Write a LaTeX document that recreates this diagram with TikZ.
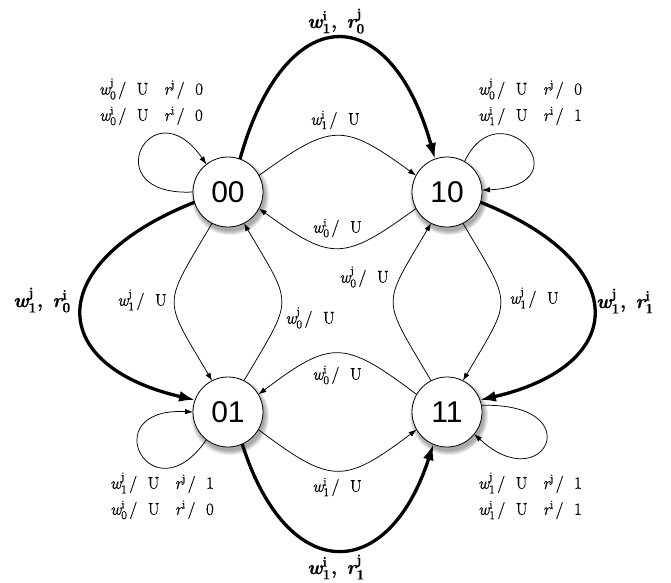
\documentclass[tikz,border=0pt]{standalone}
\usepackage{amsmath}
\usepackage{fontspec}
\newfontfamily\statefont{Liberation Sans}
\newfontfamily\lblfont[FakeBold=0.5]{Latin Modern Roman}
\newfontfamily\heavyfont[FakeBold=0.6]{Latin Modern Roman}
\usetikzlibrary{arrows.meta,backgrounds}

\tikzset{
  state/.style={circle, draw=black, line width=0.8pt, fill=white,
    minimum size=70pt, inner sep=0pt, outer sep=0pt,
    font=\statefont\fontsize{30}{30}\selectfont},
  thin edge/.style={line width=0.75pt, -{Latex[length=8pt,width=5.5pt]}},
  thick edge/.style={line width=3.3pt, -{Latex[length=16pt,width=11pt]}},
  lbl/.style={inner sep=0pt, font=\fontsize{17}{20}\selectfont},
  boldlbl/.style={inner sep=0pt, font=\fontsize{20}{24}\selectfont},
}

% letters of the transition texts
\newcommand{\vi}[1]{\text{\lblfont\itshape #1}}
\newcommand{\vu}[1]{\text{\lblfont #1}}
\newcommand{\bi}[1]{\text{\heavyfont\bfseries\itshape #1}}
\newcommand{\bu}[1]{\text{\heavyfont\bfseries #1}}

% transition texts
\newcommand{\tr}[3]{$\vi{w}_{\vu{#1}}^{\vu{#2}}\mskip2mu\vu{/}\mskip11mu\vu{U}\mskip16mu\vi{r}^{\vu{#2}}\mskip2mu\vu{/}\mskip11mu\vu{#3}$}
\newcommand{\wu}[2]{$\vi{w}_{\vu{#1}}^{\vu{#2}}\mskip2mu\vu{/}\mskip11mu\vu{U}$}
\newcommand{\bw}[4]{$\bi{w}_{\bu{#1}}^{\bu{#2}}\bu{,}\mskip8mu\bi{r}_{\bu{#3}}^{\bu{#4}}$}

\begin{document}
\begin{tikzpicture}[x=1pt,y=1pt]
\useasboundingbox (0,0) rectangle (671,582);

% states
\node[state] (n00) at (228,390) {00};
\node[state] (n10) at (447,390) {10};
\node[state] (n01) at (228,170) {01};
\node[state] (n11) at (447,170) {11};

% soft drop shadows behind the states
\begin{pgfonlayer}{background}
\foreach \n in {n00,n10,n01,n11}{
  \foreach \r in {39,38,37,36,35}{
    \fill[black,opacity=0.08] ([shift={(2,-4)}]\n.center) circle (\r pt);
  }
}
\end{pgfonlayer}

% heavy transitions
\draw[thick edge] (n00.70) .. controls +(45,161) and +(-45,161) .. (n10.110);
\draw[thick edge] (n01.-66) .. controls +(45,-142) and +(-45,-140) .. (n11.-113);
\draw[thick edge] (n00.197) .. controls +(-151,-60) and +(-151,35) .. (n01.160);
\draw[thick edge] (n10.-17) .. controls +(151,-60) and +(151,35) .. (n11.20);

\node[boldlbl] (bt) at (336,561) {\bw{1}{i}{0}{j}};
\node[boldlbl] (bb) at (336,15) {\bw{1}{i}{1}{j}};
\node[boldlbl] (bl) at (42,282) {\bw{1}{j}{0}{i}};
\node[boldlbl] (br) at (625,281) {\bw{1}{j}{1}{i}};

% horizontal transitions
\draw[thin edge] (n00.28) .. controls +(73,53) and +(-73,53) .. (n10.152);
\draw[thin edge] (n10.-152) .. controls +(-73,-53) and +(73,-53) .. (n00.-28);
\draw[thin edge] (n11.150) .. controls +(-73,55) and +(73,55) .. (n01.30);
\draw[thin edge] (n01.-30) .. controls +(73,-55) and +(-73,-55) .. (n11.-150);

\node[lbl] (h1) at (335,462) {\wu{1}{i}};
\node[lbl] (h2) at (337,354) {\wu{0}{i}};
\node[lbl] (h3) at (337,207) {\wu{0}{i}};
\node[lbl] (h4) at (337,95) {\wu{1}{i}};

% vertical transitions
\draw[thin edge] (n00.-117) .. controls +(-50,-85) and +(-50,85) .. (n01.117);
\draw[thin edge] (n01.63) .. controls +(50,85) and +(50,-85) .. (n00.-63);
\draw[thin edge] (n10.-63) .. controls +(50,-85) and +(50,85) .. (n11.63);
\draw[thin edge] (n11.117) .. controls +(-50,85) and +(-50,-85) .. (n10.-117);

\node[lbl] (v1) at (142,282) {\wu{1}{j}};
\node[lbl] (v2) at (310,264) {\wu{0}{j}};
\node[lbl] (v3) at (364,305) {\wu{0}{j}};
\node[lbl] (v4) at (534,284) {\wu{1}{j}};

% self loops
\draw[thin edge] (n00.180) .. controls +(-100,-5) and +(-55,80) .. (n00.128);
\draw[thin edge] (n10.60) .. controls +(35,75) and +(105,5) .. (n10.3);
\draw[thin edge] (n01.232) .. controls +(-55,-80) and +(-100,5) .. (n01.180);
\draw[thin edge] (n11.11) .. controls +(110,3) and +(70,-65) .. (n11.-39);

\node[lbl] (l00a) at (151,493) {\tr{0}{j}{0}};
\node[lbl] (l00b) at (151,466) {\tr{0}{i}{0}};
\node[lbl] (l10a) at (530,493) {\tr{0}{j}{0}};
\node[lbl] (l10b) at (530,466) {\tr{1}{i}{1}};
\node[lbl] (l01a) at (162,99) {\tr{1}{j}{1}};
\node[lbl] (l01b) at (162,72) {\tr{0}{i}{0}};
\node[lbl] (l11a) at (530,99) {\tr{1}{j}{1}};
\node[lbl] (l11b) at (530,72) {\tr{1}{i}{1}};
\end{tikzpicture}
\end{document}
